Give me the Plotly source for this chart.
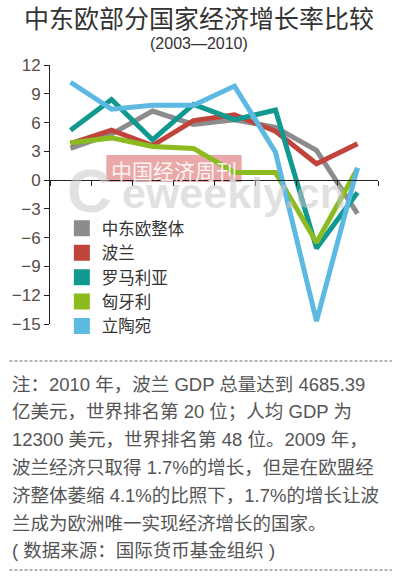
import plotly.graph_objects as go

years = [2003, 2004, 2005, 2006, 2007, 2008, 2009, 2010]

cee = [3.3, 4.8, 7.2, 5.8, 6.3, 5.5, 3.1, -3.5]
poland = [3.8, 5.2, 3.6, 6.2, 6.8, 5.1, 1.7, 3.8]
romania = [5.2, 8.4, 4.2, 7.9, 6.3, 7.3, -7.1, -1.3]
hungary = [3.9, 4.4, 3.5, 3.3, 0.8, 0.8, -6.5, 1.2]
lithuania = [10.2, 7.4, 7.8, 7.8, 9.8, 2.9, -14.7, 1.3]

names = ["中东欧整体", "波兰", "罗马利亚", "匈牙利", "立陶宛"]
series = [cee, poland, romania, hungary, lithuania]
colors = ["#8c8c8c", "#c0443b", "#12998f", "#8bbb1f", "#5cb9e2"]

y_ticks = [-15, -12, -9, -6, -3, 0, 3, 6, 9, 12]
y_min, y_max = -15, 12

title = "中东欧部分国家经济增长率比较"
subtitle = "(2003—2010)"
note_lines = [
    "注：2010 年，波兰 GDP 总量达到 4685.39",
    "亿美元，世界排名第 20 位；人均 GDP 为",
    "12300 美元，世界排名第 48 位。2009 年，",
    "波兰经济只取得 1.7%的增长，但是在欧盟经",
    "济整体萎缩 4.1%的比照下，1.7%的增长让波",
    "兰成为欧洲唯一实现经济增长的国家。",
    "( 数据来源：国际货币基金组织 )",
]

# plot box in pixels, used to place the texts around it
L, R, T, B = 46, 378, 65, 324


def px(x):
    return (x - L) / (R - L)


def py(y):
    return (B - y) / (B - T)


fig = go.Figure()

for name, vals, col in zip(names, series, colors):
    fig.add_trace(go.Scatter(x=years, y=vals, mode="lines", name=name,
                             line=dict(color=col, width=5), showlegend=False))

# square legend keys
for name, col in zip(names, colors):
    fig.add_trace(go.Scatter(x=[None], y=[None], mode="markers", name=name,
                             marker=dict(symbol="square", size=16, color=col)))

boundaries = [years[0] - 0.5 + i for i in range(len(years) + 1)]

fig.update_xaxes(range=[boundaries[0], boundaries[-1]], tickvals=boundaries,
                 showticklabels=False, ticks="outside", ticklen=5, tickcolor="#222",
                 showline=True, linecolor="#222", linewidth=1, showgrid=False,
                 zeroline=False, anchor="free",
                 position=(0 - y_min) / (y_max - y_min))
fig.update_yaxes(range=[y_min, y_max], tickvals=y_ticks, ticks="outside", ticklen=5,
                 tickcolor="#222", showline=True, linecolor="#222", linewidth=1,
                 showgrid=False, zeroline=False,
                 tickfont=dict(size=17, color="#5a4b45", family="Liberation Sans"))

# watermark
fig.add_shape(type="rect", xref="paper", yref="paper", x0=px(103), x1=px(240),
              y0=py(182), y1=py(155), fillcolor="rgba(222,110,110,0.6)",
              line=dict(width=0), layer="below")
fig.add_annotation(text="中国经济周刊", xref="paper", yref="paper", x=px(172), y=py(170),
                   xanchor="center", yanchor="middle", showarrow=False,
                   font=dict(size=21, color="rgba(255,255,255,0.9)", family="Noto Sans CJK SC"))
fig.add_annotation(text="<b>C</b>", xref="paper", yref="paper", x=px(86), y=py(190),
                   xanchor="center", yanchor="middle", showarrow=False,
                   font=dict(size=62, color="rgba(200,200,200,0.55)", family="Liberation Sans"))
fig.add_annotation(text="<b>eweekly.cn</b>", xref="paper", yref="paper", x=px(232), y=py(193),
                   xanchor="center", yanchor="middle", showarrow=False,
                   font=dict(size=43, color="rgba(200,200,200,0.55)", family="Liberation Sans"))

fig.add_annotation(text=title, xref="paper", yref="paper", x=px(197), y=py(17),
                   xanchor="center", yanchor="middle", showarrow=False,
                   font=dict(size=25, color="#333", family="Noto Sans CJK SC"))
fig.add_annotation(text=subtitle, xref="paper", yref="paper", x=px(197), y=py(44),
                   xanchor="center", yanchor="middle", showarrow=False,
                   font=dict(size=16, color="#333", family="Liberation Sans, Noto Sans CJK SC"))

for i, line in enumerate(note_lines):
    fig.add_annotation(text=line, xref="paper", yref="paper", x=px(6), y=py(384 + i * 27.8),
                       xanchor="left", yanchor="middle", showarrow=False,
                       font=dict(size=18.5, color="#555", family="Liberation Sans, Noto Sans CJK SC"))

for yy in (361, 570):
    fig.add_shape(type="line", xref="paper", yref="paper", x0=px(5), x1=px(392),
                  y0=py(yy), y1=py(yy), line=dict(color="#666", width=1, dash="3px,2px"))

fig.update_layout(
    width=400, height=576,
    margin=dict(l=L, r=400 - R, t=T, b=576 - B),
    paper_bgcolor="white", plot_bgcolor="white",
    legend=dict(x=px(58), y=py(211), xanchor="left", yanchor="top",
                bgcolor="rgba(0,0,0,0)",
                font=dict(size=16.5, color="#333", family="Noto Sans CJK SC")),
)

fig.write_html("out.html", config={"displayModeBar": False},
               post_script="document.body.style.margin='0';")
